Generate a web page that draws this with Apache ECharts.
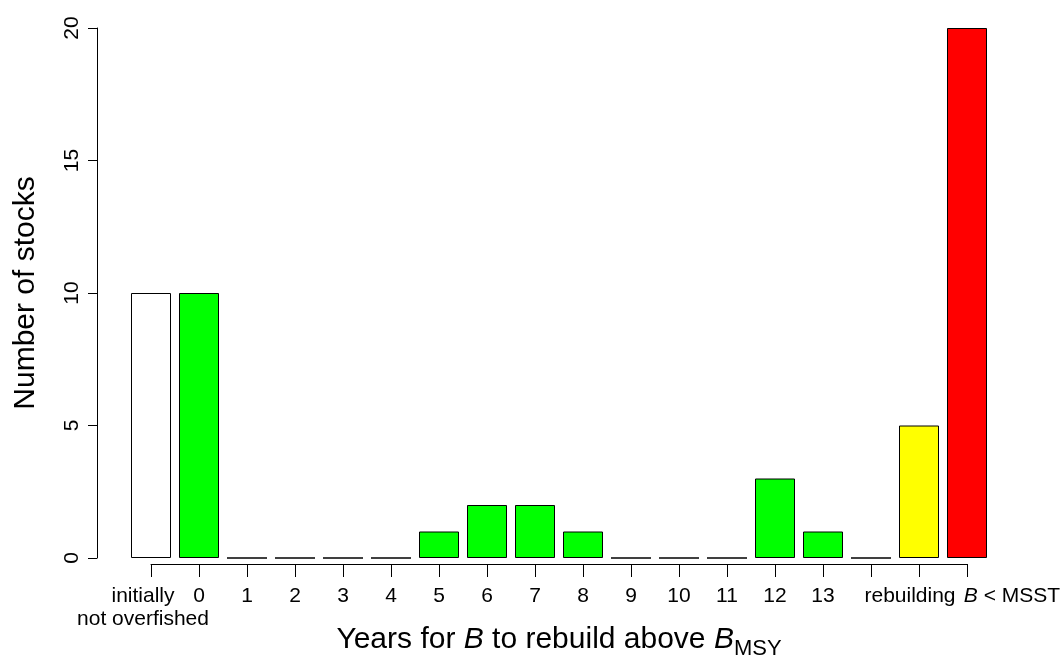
<!DOCTYPE html>
<html>
<head>
<meta charset="utf-8">
<script src="https://cdn.jsdelivr.net/npm/echarts@6/dist/echarts.min.js"></script>
<style>
html,body{margin:0;padding:0;background:#fff;}
#chart{width:1062px;height:660px;}
</style>
</head>
<body>
<div id="chart"></div>
<script>
// Data
var categories = ['initially\nnot overfished','0','1','2','3','4','5','6','7','8','9','10','11','12','13','','rebuilding','B < MSST'];
var stockCounts = [10, 10, 0, 0, 0, 0, 1, 2, 2, 1, 0, 0, 0, 3, 1, 0, 5, 20];
var barColors = ['#FFFFFF','#00FF00','#00FF00','#00FF00','#00FF00','#00FF00','#00FF00','#00FF00','#00FF00','#00FF00','#00FF00','#00FF00','#00FF00','#00FF00','#00FF00','#00FF00','#FFFF00','#FF0000'];
var yTicks = [0, 5, 10, 15, 20];

var FONT = "'Liberation Sans', Arial, Helvetica, sans-serif";
var chart = echarts.init(document.getElementById('chart'), null, {renderer: 'canvas'});

var option = {
  backgroundColor: '#ffffff',
  animation: false,
  textStyle: {fontFamily: FONT, color: '#000'},
  grid: [
    {left: 127, right: 71, top: 28, bottom: 102, containLabel: false, outerBoundsMode: 'none'},
    {left: 151, right: 95, top: 28, bottom: 96, containLabel: false, outerBoundsMode: 'none'}
  ],
  xAxis: [
    {type: 'category', gridIndex: 0, data: categories, show: false, boundaryGap: true},
    {
      type: 'category', gridIndex: 1, data: categories, boundaryGap: false,
      axisLine: {show: true, onZero: false, lineStyle: {color: '#000', width: 1}},
      axisTick: {show: true, length: 13, interval: 0, lineStyle: {color: '#000', width: 1}},
      axisLabel: {
        interval: 0, fontSize: 21, lineHeight: 23, color: '#000', fontFamily: FONT, margin: 21,
        hideOverlap: false,
        formatter: function (v) {
          if (v.indexOf('\n') >= 0) return v.split('\n').map(function (s) { return s + '{fs|}'; }).join('\n');
          if (v === 'rebuilding') return v + '{rs|}';
          if (v.indexOf('B <') === 0) return '{ls|}{i|B}' + v.slice(1);
          return v;
        },
        rich: {
          i: {fontStyle: 'italic', fontSize: 21, fontFamily: FONT, color: '#000'},
          fs: {width: 16},
          rs: {width: 18},
          ls: {width: 90}
        }
      },
      splitLine: {show: false},
      name: 'Years for {i|B} to rebuild above {i|B}{sub|MSY}',
      nameLocation: 'middle',
      nameGap: 61,
      nameMoveOverlap: false,
      nameTextStyle: {
        fontSize: 30, fontFamily: FONT, color: '#000',
        rich: {
          i: {fontStyle: 'italic', fontSize: 30, fontFamily: FONT, color: '#000'},
          sub: {fontSize: 22, fontFamily: FONT, color: '#000', verticalAlign: 'top', padding: [13, 0, 0, 0], lineHeight: 22}
        }
      }
    }
  ],
  yAxis: [
    {
      type: 'value', gridIndex: 0, min: 0, max: 20, interval: 5, offset: 30,
      axisLine: {show: true, lineStyle: {color: '#000', width: 1}},
      axisTick: {show: true, length: 9, lineStyle: {color: '#000', width: 1}},
      axisLabel: {
        rotate: 90, fontSize: 21, color: '#000', fontFamily: FONT, margin: 14,
        formatter: function (v) { return yTicks.indexOf(v) >= 0 ? String(v) : ''; }
      },
      splitLine: {show: false},
      name: 'Number of stocks',
      nameLocation: 'middle',
      nameRotate: 90,
      nameGap: 56,
      nameMoveOverlap: false,
      nameTextStyle: {fontSize: 30, fontFamily: FONT, color: '#000'}
    },
    {type: 'value', gridIndex: 1, show: false, min: 0, max: 20}
  ],
  series: [{
    type: 'bar',
    xAxisIndex: 0, yAxisIndex: 0,
    barWidth: 40,
    data: stockCounts.map(function (v, i) {
      return {value: v, itemStyle: {color: barColors[i]}};
    }),
    itemStyle: {borderColor: '#000', borderWidth: 1},
    emphasis: {disabled: true}
  }]
};
chart.setOption(option);
</script>
</body>
</html>
